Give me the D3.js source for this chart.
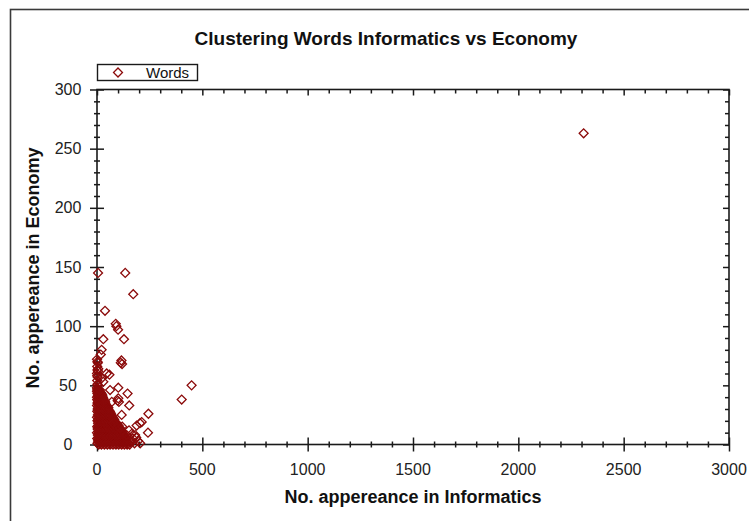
<!DOCTYPE html>
<html>
<head>
<meta charset="utf-8">
<script src="https://cdn.jsdelivr.net/npm/d3@7"></script>
<style>
  html, body { margin: 0; padding: 0; background: #fff; }
  svg { display: block; font-family: "Liberation Sans", Arial, sans-serif; }
</style>
</head>
<body>
<svg id="chart" width="749" height="521"></svg>
<script>
// Word counts: [appearances in Informatics, appearances in Economy]
const spreadWords = [
  [2310, 263], [449, 50], [402, 38], [242, 10], [244, 26], [212, 19], [204, 18],
  [188, 16], [181, 8], [134, 145], [172, 127], [5, 145], [38, 113], [89, 102],
  [92, 100], [100, 97], [128, 89], [30, 89], [22, 80], [18, 76], [113, 69],
  [119, 68], [116, 71], [59, 59], [46, 60], [30, 53], [22, 56], [14, 46],
  [101, 48], [145, 43], [98, 37], [104, 36], [101, 39], [153, 33], [70, 36],
  [117, 25], [77, 18], [109, 14], [141, 8], [120, 15], [62, 46]
];

// Low-frequency words packed near the origin
const denseWords = [
  [8, 0], [21, 0], [35, 0], [49, 0], [62, 0], [76, 0], [90, 0], [103, 0], [117, 0], [130, 0], [143, 0], [155, 0],
  [2, 1], [15, 1], [27, 1], [41, 1], [56, 1], [68, 1], [83, 1], [95, 1], [110, 1], [122, 1], [137, 1], [148, 1],
  [9, 2], [22, 2], [36, 2], [50, 2], [64, 2], [77, 2], [91, 2], [105, 2], [118, 2], [131, 2], [145, 2], [158, 2],
  [5, 3], [19, 3], [33, 3], [47, 3], [60, 3], [74, 3], [88, 3], [101, 3], [115, 3], [129, 3], [141, 3],
  [7, 4], [20, 4], [34, 4], [47, 4], [61, 4], [74, 4], [88, 4], [100, 4], [114, 4], [127, 4], [139, 4],
  [1, 5], [12, 5], [26, 5], [39, 5], [52, 5], [66, 5], [79, 5], [93, 5], [107, 5], [120, 5], [133, 5],
  [6, 6], [19, 6], [33, 6], [46, 6], [59, 6], [73, 6], [86, 6], [99, 6], [113, 6], [126, 6], [136, 6],
  [10, 7], [24, 7], [38, 7], [51, 7], [65, 7], [80, 7], [92, 7], [106, 7], [119, 7], [130, 7],
  [4, 8], [17, 8], [30, 8], [45, 8], [58, 8], [71, 8], [85, 8], [98, 8], [112, 8], [125, 8],
  [9, 9], [22, 9], [36, 9], [49, 9], [62, 9], [76, 9], [89, 9], [102, 9], [115, 9], [123, 9],
  [0, 10], [13, 10], [25, 10], [38, 10], [51, 10], [64, 10], [78, 10], [91, 10], [104, 10], [116, 10],
  [6, 11], [19, 11], [32, 11], [45, 11], [58, 11], [71, 11], [84, 11], [97, 11], [110, 11], [119, 11],
  [10, 12], [23, 12], [37, 12], [50, 12], [63, 12], [77, 12], [90, 12], [103, 12], [114, 12],
  [3, 13], [16, 13], [29, 13], [43, 13], [57, 13], [70, 13], [84, 13], [97, 13], [109, 13],
  [8, 14], [21, 14], [35, 14], [48, 14], [61, 14], [74, 14], [87, 14], [96, 14], [106, 14],
  [1, 15], [11, 15], [24, 15], [36, 15], [50, 15], [63, 15], [76, 15], [89, 15], [100, 15],
  [5, 16], [18, 16], [30, 16], [43, 16], [56, 16], [69, 16], [82, 16], [93, 16], [102, 16],
  [11, 17], [25, 17], [39, 17], [52, 17], [65, 17], [79, 17], [90, 17],
  [5, 18], [18, 18], [32, 18], [46, 18], [59, 18], [72, 18], [86, 18], [94, 18],
  [8, 19], [21, 19], [34, 19], [47, 19], [60, 19], [73, 19], [84, 19],
  [2, 20], [14, 20], [27, 20], [40, 20], [53, 20], [66, 20], [80, 20],
  [6, 21], [20, 21], [33, 21], [46, 21], [59, 21], [72, 21], [82, 21],
  [7, 22], [19, 22], [32, 22], [45, 22], [58, 22], [70, 22], [78, 22],
  [0, 23], [12, 23], [26, 23], [39, 23], [51, 23], [64, 23], [75, 23],
  [10, 24], [23, 24], [36, 24], [49, 24], [62, 24], [71, 24],
  [4, 25], [17, 25], [30, 25], [44, 25], [57, 25], [68, 25],
  [9, 26], [22, 26], [35, 26], [48, 26], [60, 26], [66, 26],
  [6, 27], [19, 27], [32, 27], [44, 27], [55, 27], [63, 27],
  [1, 28], [13, 28], [25, 28], [38, 28], [50, 28], [61, 28],
  [8, 29], [20, 29], [33, 29], [45, 29], [56, 29],
  [3, 30], [16, 30], [28, 30], [41, 30], [52, 30],
  [9, 31], [22, 31], [34, 31], [46, 31], [54, 31],
  [5, 32], [17, 32], [29, 32], [40, 32], [49, 32],
  [0, 33], [10, 33], [23, 33], [35, 33], [46, 33],
  [8, 34], [20, 34], [31, 34], [42, 34],
  [2, 35], [14, 35], [26, 35], [37, 35],
  [7, 36], [19, 36], [30, 36], [39, 36],
  [4, 37], [16, 37], [26, 37], [34, 37],
  [1, 38], [11, 38], [22, 38], [31, 38],
  [6, 39], [15, 39], [24, 39], [30, 39],
  [0, 40], [9, 40], [19, 40], [27, 40],
  [4, 41], [13, 41], [22, 41], [26, 41],
  [7, 42], [16, 42], [24, 42],
  [2, 43], [12, 43], [21, 43],
  [4, 44], [13, 44], [18, 44],
  [0, 45], [8, 45],
  [3, 46], [10, 46],
  [1, 47], [6, 47],
  [0, 48], [3, 50], [2, 51], [1, 54], [3, 57], [1, 58], [0, 60], [5, 62], [2, 63], [6, 64],
  [1, 66], [4, 69], [2, 70], [0, 72],
  [160, 2], [171, 5], [178, 1], [186, 6], [165, 9], [195, 3], [152, 12], [205, 1]
];

const xMajorTicks = [0, 500, 1000, 1500, 2000, 2500, 3000];
const yMajorTicks = [0, 50, 100, 150, 200, 250, 300];
const chartTitle = "Clustering Words Informatics vs Economy";
const xTitle = "No. appereance in Informatics";
const yTitle = "No. appereance in Economy";
const seriesName = "Words";

const svg = d3.select("#chart");
const markColor = "#8b0a0a";
const axisColor = "#1a1a1a";

const x = d3.scaleLinear().domain([0, 3000]).range([97, 729]);
const y = d3.scaleLinear().domain([0, 300]).range([444.5, 89.5]);

const xMinor = d3.range(0, 3001, 100).filter(v => v % 500 !== 0);
const yMinor = d3.range(0, 301, 10).filter(v => v % 50 !== 0);

// white page and outer frame
svg.append("rect").attr("width", 749).attr("height", 521).attr("fill", "#fff");
svg.append("rect")
  .attr("x", 10.5).attr("y", 9.5).attr("width", 760).attr("height", 540)
  .attr("fill", "none").attr("stroke", "#3a3a3a").attr("stroke-width", 1.6);

// title
svg.append("text")
  .attr("x", 386).attr("y", 45)
  .attr("text-anchor", "middle")
  .attr("font-size", 19).attr("font-weight", "bold").attr("fill", "#111")
  .text(chartTitle);

function styleAxis(g) {
  g.select(".domain").remove();
  g.selectAll("line").attr("stroke", axisColor).attr("stroke-width", 1.5);
}

// major ticks crossing the bottom and left lines
svg.append("g").attr("transform", `translate(0,${y(0) - 7})`)
  .call(d3.axisBottom(x).tickValues(xMajorTicks).tickSize(14).tickFormat("")).call(styleAxis);
svg.append("g").attr("transform", `translate(${x(0) + 7},0)`)
  .call(d3.axisLeft(y).tickValues(yMajorTicks).tickSize(14).tickFormat("")).call(styleAxis);
// minor ticks crossing the bottom and left lines
svg.append("g").attr("transform", `translate(0,${y(0) - 3})`)
  .call(d3.axisBottom(x).tickValues(xMinor).tickSize(6).tickFormat("")).call(styleAxis);
svg.append("g").attr("transform", `translate(${x(0) + 3},0)`)
  .call(d3.axisLeft(y).tickValues(yMinor).tickSize(6).tickFormat("")).call(styleAxis);
// inward ticks on the top and right lines
svg.append("g").attr("transform", `translate(0,${y(300)})`)
  .call(d3.axisBottom(x).tickValues(xMajorTicks).tickSize(6).tickFormat("")).call(styleAxis);
svg.append("g").attr("transform", `translate(0,${y(300)})`)
  .call(d3.axisBottom(x).tickValues(xMinor).tickSize(4).tickFormat("")).call(styleAxis);
svg.append("g").attr("transform", `translate(${x(3000)},0)`)
  .call(d3.axisLeft(y).tickValues(yMajorTicks).tickSize(6).tickFormat("")).call(styleAxis);
svg.append("g").attr("transform", `translate(${x(3000)},0)`)
  .call(d3.axisLeft(y).tickValues(yMinor).tickSize(4).tickFormat("")).call(styleAxis);

// plot frame lines
svg.append("rect")
  .attr("x", x(0)).attr("y", y(300))
  .attr("width", x(3000) - x(0)).attr("height", y(0) - y(300))
  .attr("fill", "none").attr("stroke", axisColor).attr("stroke-width", 1.6);

// tick labels
svg.append("g").selectAll("text").data(xMajorTicks).join("text")
  .attr("x", d => x(d)).attr("y", 475)
  .attr("text-anchor", "middle").attr("font-size", 16).attr("fill", "#222")
  .text(d => d);
svg.append("g").selectAll("text").data(yMajorTicks).join("text")
  .attr("x", 68).attr("y", d => y(d) + 5.5)
  .attr("text-anchor", "middle").attr("font-size", 16).attr("fill", "#222")
  .text(d => d);

// axis titles
svg.append("text")
  .attr("x", 413).attr("y", 503)
  .attr("text-anchor", "middle").attr("font-size", 18).attr("font-weight", "bold").attr("fill", "#111")
  .text(xTitle);
svg.append("text")
  .attr("transform", "translate(39,268) rotate(-90)")
  .attr("text-anchor", "middle").attr("font-size", 18).attr("font-weight", "bold").attr("fill", "#111")
  .text(yTitle);

// diamond markers
const diamond = d3.symbol().type(d3.symbolSquare).size(40)();
const allWords = denseWords.concat(spreadWords);
svg.append("g").selectAll("path").data(allWords).join("path")
  .attr("d", diamond)
  .attr("transform", d => `translate(${x(d[0])},${y(d[1])}) rotate(45)`)
  .attr("fill", "none").attr("stroke", markColor).attr("stroke-width", 1.3);

// legend
const legend = svg.append("g");
legend.append("rect")
  .attr("x", 97.5).attr("y", 64.5).attr("width", 100).attr("height", 16)
  .attr("fill", "#fff").attr("stroke", axisColor).attr("stroke-width", 1.4);
legend.append("path")
  .attr("d", diamond)
  .attr("transform", "translate(118,72.5) rotate(45)")
  .attr("fill", "none").attr("stroke", markColor).attr("stroke-width", 1.3);
legend.append("text")
  .attr("x", 146).attr("y", 78)
  .attr("font-size", 15).attr("fill", "#111")
  .text(seriesName);
</script>
</body>
</html>
